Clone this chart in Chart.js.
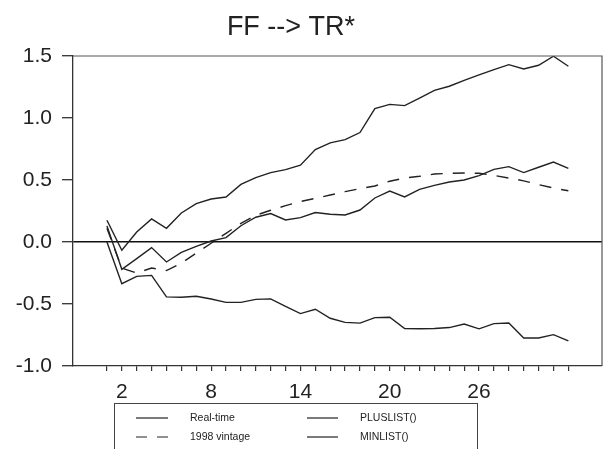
<!DOCTYPE html>
<html>
<head>
<meta charset="utf-8">
<script src="https://cdn.jsdelivr.net/npm/chart.js@4"></script>
<style>
  html, body { margin: 0; padding: 0; background: #fff; }
  #wrap { width: 605px; height: 449px; }
</style>
</head>
<body>
<div id="wrap"><canvas id="irfChart" width="605" height="449"></canvas></div>
<script>
// horizon (quarters) and the responses
const periods = [1, 2, 3, 4, 5, 6, 7, 8, 9, 10, 11, 12, 13, 14, 15, 16,
  17, 18, 19, 20, 21, 22, 23, 24, 25, 26, 27, 28, 29, 30, 31, 32];
const xTickLabels = [2, 8, 14, 20, 26];

const realTime = [0.13, -0.22, -0.134, -0.045, -0.161, -0.083, -0.035, 0.008, 0.035, 0.131,
  0.2, 0.229, 0.178, 0.197, 0.238, 0.224, 0.218, 0.258, 0.355, 0.411, 0.363, 0.424,
  0.457, 0.484, 0.5, 0.535, 0.586, 0.608, 0.56, 0.603, 0.645, 0.594];
const vintage1998 = [0.11, -0.21, -0.25, -0.21, -0.23, -0.17, -0.09, -0.01, 0.07, 0.15,
  0.215, 0.256, 0.293, 0.326, 0.352, 0.379, 0.406, 0.43, 0.452, 0.49, 0.516, 0.53,
  0.548, 0.554, 0.557, 0.554, 0.537, 0.516, 0.493, 0.463, 0.435, 0.413];
const plusList = [0.175, -0.067, 0.081, 0.186, 0.11, 0.234, 0.31, 0.347, 0.363, 0.464,
  0.519, 0.56, 0.584, 0.619, 0.745, 0.8, 0.825, 0.883, 1.076, 1.11, 1.1, 1.161,
  1.223, 1.256, 1.304, 1.348, 1.39, 1.43, 1.395, 1.425, 1.498, 1.417];
const minList = [0.0, -0.336, -0.277, -0.269, -0.443, -0.446, -0.438, -0.46, -0.487, -0.487,
  -0.463, -0.459, -0.519, -0.577, -0.542, -0.615, -0.648, -0.654, -0.61, -0.607, -0.699, -0.7,
  -0.697, -0.69, -0.661, -0.7, -0.658, -0.653, -0.774, -0.774, -0.747, -0.798];

const titleText = 'FF --> TR*';
const ink = '#222';
const fontFamily = '"Liberation Sans", Arial, Helvetica, sans-serif';

const toPoints = vals => vals.map((v, i) => ({ x: periods[i], y: v }));

const series = (label, vals, dash) => ({
  label,
  data: toPoints(vals),
  borderColor: ink,
  borderWidth: 1.4,
  borderDash: dash,
  pointRadius: 0,
  tension: 0,
  fill: false
});

// title, top/right frame and the boxed legend under the axis
const decorations = {
  id: 'decorations',
  afterDraw(chart) {
    const { ctx, chartArea: a } = chart;
    ctx.save();

    ctx.strokeStyle = '#555';
    ctx.lineWidth = 1.2;
    ctx.beginPath();
    ctx.moveTo(a.left, a.top);
    ctx.lineTo(a.right, a.top);
    ctx.lineTo(a.right, a.bottom);
    ctx.stroke();

    ctx.fillStyle = ink;
    ctx.font = '27px ' + fontFamily;
    ctx.textAlign = 'center';
    ctx.textBaseline = 'alphabetic';
    ctx.fillText(titleText, 291, 35);

    // legend box
    ctx.strokeStyle = '#444';
    ctx.lineWidth = 1;
    ctx.strokeRect(114.5, 403.5, 363, 60);

    const colX = [{ l0: 136, l1: 168, t: 190 }, { l0: 307, l1: 338, t: 360 }];
    const rowY = [418, 437];
    ctx.font = '10.5px ' + fontFamily;
    ctx.textAlign = 'left';
    ctx.textBaseline = 'middle';
    chart.data.datasets.forEach((ds, i) => {
      const c = i < 2 ? 0 : 1;
      const r = i % 2;
      const p = colX[c];
      ctx.strokeStyle = ink;
      ctx.lineWidth = 1.2;
      ctx.setLineDash(ds.borderDash && ds.borderDash.length ? [11, 10] : []);
      ctx.beginPath();
      ctx.moveTo(p.l0, rowY[r]);
      ctx.lineTo(p.l1, rowY[r]);
      ctx.stroke();
      ctx.setLineDash([]);
      ctx.fillStyle = ink;
      ctx.fillText(ds.label, p.t, rowY[r]);
    });
    ctx.restore();
  }
};

new Chart(document.getElementById('irfChart'), {
  type: 'line',
  data: {
    datasets: [
      series('Real-time', realTime, []),
      series('1998 vintage', vintage1998, [12, 10]),
      series('PLUSLIST()', plusList, []),
      series('MINLIST()', minList, [])
    ]
  },
  options: {
    responsive: false,
    animation: false,
    layout: { padding: { top: 56, right: 3, left: 0, bottom: 0 } },
    plugins: {
      legend: { display: false },
      title: { display: false },
      tooltip: { enabled: false }
    },
    scales: {
      x: {
        type: 'linear',
        min: -1.28,
        max: 34.26,
        afterBuildTicks: scale => { scale.ticks = periods.map(v => ({ value: v })); },
        afterFit: scale => { scale.height = 83; },
        grid: { display: true, drawOnChartArea: false, drawTicks: true, tickLength: 5, color: '#333', tickColor: '#333', tickWidth: 1.2, lineWidth: 1.2 },
        border: { display: true, color: '#333', width: 1.3 },
        ticks: {
          autoSkip: false,
          maxRotation: 0,
          padding: 9,
          color: ink,
          font: { size: 21, family: fontFamily },
          callback: v => (xTickLabels.includes(v) ? String(v) : '')
        }
      },
      y: {
        min: -1,
        max: 1.5,
        afterFit: scale => { scale.width = 73; },
        grid: {
          drawOnChartArea: true,
          drawTicks: true,
          tickLength: 11,
          tickColor: '#333',
          tickWidth: 1.3,
          lineWidth: 1.4,
          // only the zero line crosses the plot
          color: ctx => (ctx.tick && ctx.tick.value === 0 ? '#111' : 'rgba(255,255,255,0)')
        },
        border: { display: true, color: '#333', width: 1.3 },
        ticks: {
          stepSize: 0.5,
          padding: 10,
          color: ink,
          font: { size: 21, family: fontFamily },
          callback: v => Number(v).toFixed(1)
        }
      }
    }
  },
  plugins: [decorations]
});
</script>
</body>
</html>
